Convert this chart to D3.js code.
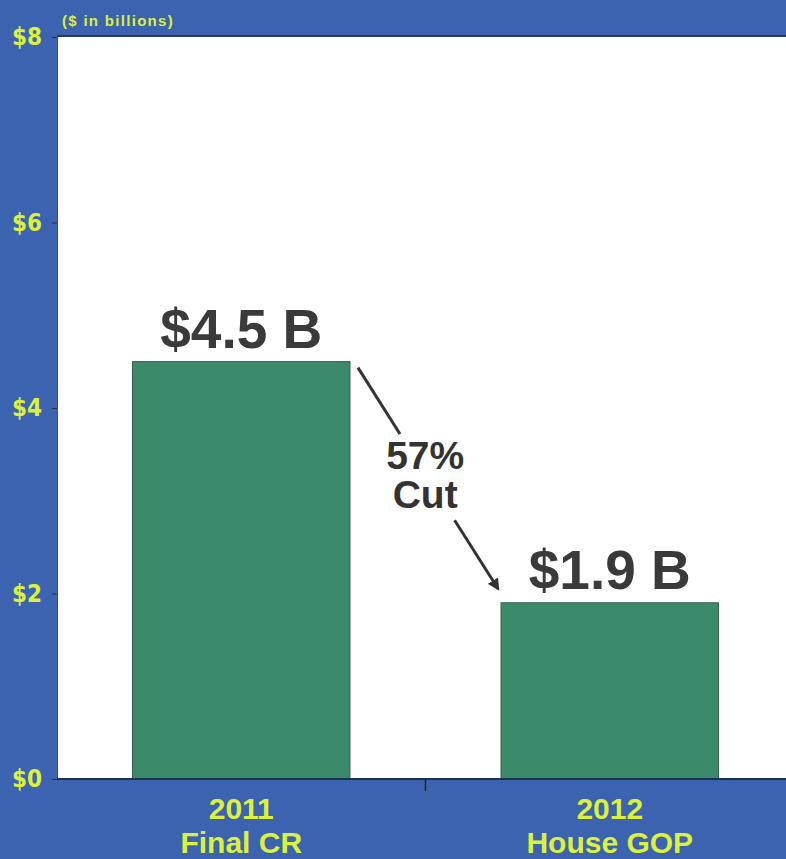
<!DOCTYPE html>
<html>
<head>
<meta charset="utf-8">
<script src="https://cdn.jsdelivr.net/npm/d3@7"></script>
<style>
  body { margin: 0; background: #3b63b0; }
  svg { display: block; }
</style>
</head>
<body>
<div id="chart"></div>
<script>
// chart data
var categories = ["2011", "2012"];
var subLabels = ["Final CR", "House GOP"];
var values = [4.5, 1.9];
var valueLabels = ["$4.5 B", "$1.9 B"];
var yTicks = [0, 2, 4, 6, 8];
var yTickLabels = ["$0", "$2", "$4", "$6", "$8"];
var cutLabel = ["57%", "Cut"];

var svgWidth = 786;
var svgHeight = 859;

var margin = { top: 37, right: -8, bottom: 80, left: 57 };
var plotRight = svgWidth - margin.right;
var plotBottom = svgHeight - margin.bottom;

var svg = d3.select("#chart")
  .append("svg")
  .attr("width", svgWidth)
  .attr("height", svgHeight);

// blue backdrop
svg.append("rect")
  .attr("width", svgWidth)
  .attr("height", svgHeight)
  .attr("fill", "#3b63b0");

// scales
var x = d3.scaleBand()
  .domain(categories)
  .range([margin.left, plotRight])
  .paddingInner(0.41)
  .paddingOuter(0.205);

var y = d3.scaleLinear()
  .domain([0, 8])
  .range([plotBottom, margin.top]);

// white plot area
svg.append("rect")
  .attr("x", margin.left + 1)
  .attr("y", margin.top)
  .attr("width", plotRight - margin.left)
  .attr("height", plotBottom - margin.top)
  .attr("fill", "#ffffff");

// dark edge line on top
svg.append("line")
  .attr("x1", margin.left).attr("x2", plotRight)
  .attr("y1", margin.top - 1).attr("y2", margin.top - 1)
  .attr("stroke", "#2a3a5a").attr("stroke-width", 2);

// bars
svg.selectAll(".bar")
  .data(values)
  .enter()
  .append("rect")
  .attr("class", "bar")
  .attr("x", (d, i) => x(categories[i]))
  .attr("y", d => y(d))
  .attr("width", x.bandwidth())
  .attr("height", d => y(0) - y(d))
  .attr("fill", "#3b8a6a")
  .attr("stroke", "#2f5f4c")
  .attr("stroke-width", 1);

// y axis
var leftAxis = d3.axisLeft(y)
  .tickValues(yTicks)
  .tickSize(5)
  .tickPadding(10)
  .tickFormat((d, i) => yTickLabels[i]);

var yAxisG = svg.append("g")
  .attr("transform", `translate(${margin.left}, 0)`)
  .call(leftAxis);

yAxisG.select(".domain").attr("stroke", "#2f4f86").attr("stroke-width", 1);
yAxisG.selectAll(".tick line").attr("stroke", "#333");
yAxisG.selectAll(".tick text")
  .attr("fill", "#dcf03c")
  .attr("font-family", "'Liberation Sans Narrow', 'DejaVu Sans Condensed', sans-serif")
  .attr("font-weight", "bold")
  .attr("font-size", "24px");

// x axis baseline
svg.append("line")
  .attr("x1", margin.left).attr("x2", plotRight)
  .attr("y1", plotBottom).attr("y2", plotBottom)
  .attr("stroke", "#1f3050").attr("stroke-width", 2);

// tick between categories
var midX = (x(categories[0]) + x.bandwidth() + x(categories[1])) / 2;
svg.append("line")
  .attr("x1", midX).attr("x2", midX)
  .attr("y1", plotBottom).attr("y2", plotBottom + 12)
  .attr("stroke", "#222").attr("stroke-width", 1.5);

// category labels
var catGroup = svg.append("g");
catGroup.selectAll(".year")
  .data(categories)
  .enter()
  .append("text")
  .attr("x", d => x(d) + x.bandwidth() / 2)
  .attr("y", plotBottom + 40)
  .attr("text-anchor", "middle")
  .attr("font-family", "'Liberation Sans', Arial, sans-serif")
  .attr("font-weight", "bold")
  .attr("font-size", "30px")
  .attr("fill", "#dcf03c")
  .text(d => d);

catGroup.selectAll(".sub")
  .data(subLabels)
  .enter()
  .append("text")
  .attr("x", (d, i) => x(categories[i]) + x.bandwidth() / 2)
  .attr("y", plotBottom + 74)
  .attr("text-anchor", "middle")
  .attr("font-family", "'Liberation Sans', Arial, sans-serif")
  .attr("font-weight", "bold")
  .attr("font-size", "30px")
  .attr("fill", "#dcf03c")
  .text(d => d);

// value labels above bars
svg.selectAll(".vlabel")
  .data(values)
  .enter()
  .append("text")
  .attr("x", (d, i) => x(categories[i]) + x.bandwidth() / 2)
  .attr("y", d => y(d) - 14)
  .attr("text-anchor", "middle")
  .attr("font-family", "'Liberation Sans', Arial, sans-serif")
  .attr("font-weight", "bold")
  .attr("font-size", "55px")
  .attr("fill", "#3a3a3a")
  .text((d, i) => valueLabels[i]);

// units note
svg.append("text")
  .attr("x", 62)
  .attr("y", 26)
  .attr("font-family", "'Liberation Sans', Arial, sans-serif")
  .attr("font-weight", "bold")
  .attr("font-size", "15px")
  .attr("letter-spacing", "1.3px")
  .attr("fill", "#dcf03c")
  .text("($ in billions)");

// arrow showing the cut
svg.append("defs").append("marker")
  .attr("id", "arrowhead")
  .attr("viewBox", "0 0 10 10")
  .attr("refX", 8)
  .attr("refY", 5)
  .attr("markerWidth", 4)
  .attr("markerHeight", 4)
  .attr("orient", "auto")
  .append("path")
  .attr("d", "M0,0 L10,5 L0,10 z")
  .attr("fill", "#333");

var x0 = x(categories[0]) + x.bandwidth() + 8;
var y0 = y(values[0]) + 6;
var x1 = x(categories[1]) - 3;
var y1 = y(values[1]) - 14;
var t1 = 0.3, t2 = 0.69;

svg.append("line")
  .attr("x1", x0).attr("y1", y0)
  .attr("x2", x0 + (x1 - x0) * t1).attr("y2", y0 + (y1 - y0) * t1)
  .attr("stroke", "#333").attr("stroke-width", 3);

svg.append("line")
  .attr("x1", x0 + (x1 - x0) * t2).attr("y1", y0 + (y1 - y0) * t2)
  .attr("x2", x1).attr("y2", y1)
  .attr("stroke", "#333").attr("stroke-width", 3)
  .attr("marker-end", "url(#arrowhead)");

var cutX = x0 + (x1 - x0) * 0.48;
svg.selectAll(".cut")
  .data(cutLabel)
  .enter()
  .append("text")
  .attr("x", cutX)
  .attr("y", (d, i) => 469 + i * 39)
  .attr("text-anchor", "middle")
  .attr("font-family", "'Liberation Sans', Arial, sans-serif")
  .attr("font-weight", "bold")
  .attr("font-size", "39px")
  .attr("fill", "#333")
  .text(d => d);
</script>
</body>
</html>
